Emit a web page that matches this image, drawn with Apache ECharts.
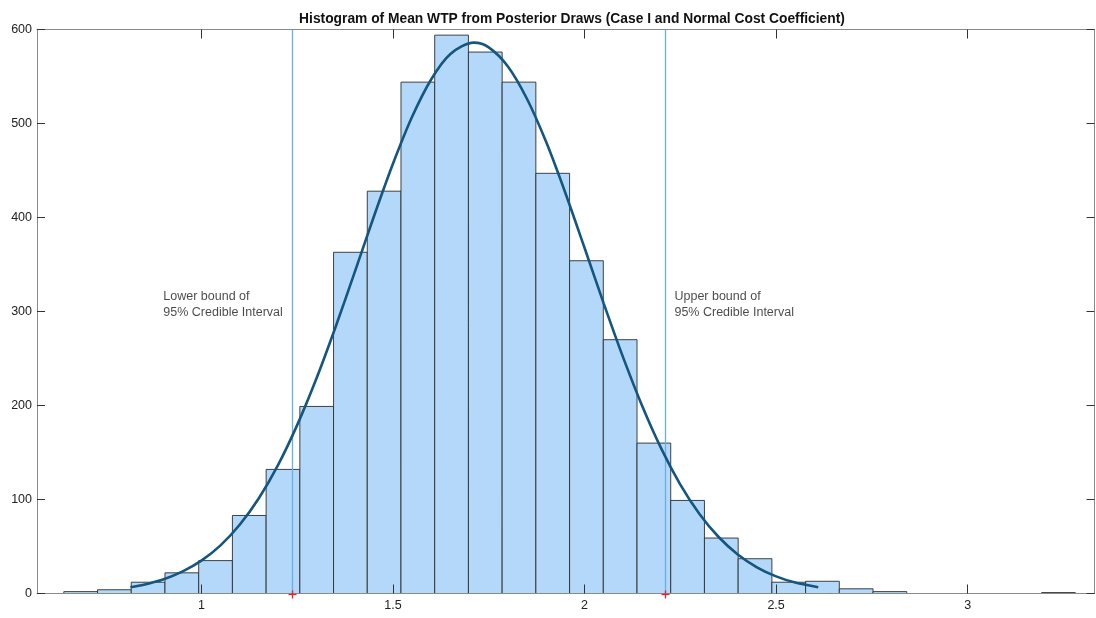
<!DOCTYPE html>
<html>
<head>
<meta charset="utf-8">
<title>Histogram of Mean WTP</title>
<script src="https://cdn.jsdelivr.net/npm/echarts@6/dist/echarts.min.js"></script>
<style>
  html, body { margin: 0; padding: 0; background: #ffffff; }
  #chart { width: 1096px; height: 618px; }
</style>
</head>
<body>
<div id="chart"></div>
<script>
// Histogram bin edges (mean WTP) and the number of posterior draws in each bin
const binEdges = [0.641, 0.729, 0.817, 0.905, 0.993, 1.081, 1.169, 1.257, 1.345, 1.433,
                  1.521, 1.609, 1.697, 1.785, 1.873, 1.961, 2.049, 2.137, 2.225, 2.313,
                  2.401, 2.489, 2.577, 2.665, 2.753, 2.841, 2.929, 3.017, 3.105, 3.193, 3.281];
const binCounts = [2, 4, 12, 22, 35, 83, 132, 199, 363, 428,
                   544, 594, 576, 544, 447, 354, 270, 160, 99, 59,
                   37, 12, 13, 5, 2, 0, 0, 0, 0, 1];

// Fitted normal density, scaled to counts
const curveX = [0.815, 0.85, 0.9, 0.95, 1.0, 1.05, 1.1, 1.15, 1.2, 1.25, 1.3, 1.35, 1.4, 1.45,
                1.5, 1.55, 1.6, 1.65, 1.711, 1.75, 1.8, 1.85, 1.9, 1.95, 2.0, 2.05, 2.1, 2.15,
                2.2, 2.25, 2.3, 2.35, 2.4, 2.45, 2.5, 2.55, 2.61];
const curveY = [6.7, 9.4, 14.9, 23.2, 34.9, 51.2, 73.1, 101.3, 136.6, 179.1, 228.4, 283.3, 341.6, 400.8,
                457.1, 507.1, 547.1, 574, 586, 581, 560.7, 526.1, 480.2, 426.1, 367.8, 308.7, 252.0, 200.0,
                154.4, 115.9, 84.6, 60.1, 41.5, 27.9, 18.2, 11.6, 6.6];

// 95% credible interval bounds
const ciBounds = [1.236, 2.210];

// Axis ticks
const xTicks = [1, 1.5, 2, 2.5, 3];
const yTicks = [0, 100, 200, 300, 400, 500, 600];

const titleText = 'Histogram of Mean WTP from Posterior Draws (Case I and Normal Cost Coefficient)';
const lowerText = 'Lower bound of\n95% Credible Interval';
const upperText = 'Upper bound of\n95% Credible Interval';

const FONT = '"Liberation Sans", Arial, Helvetica, sans-serif';
const X_MIN = 0.571, X_MAX = 3.331, Y_MIN = 0, Y_MAX = 600;

const histData = binCounts
  .map((c, i) => [binEdges[i], binEdges[i + 1], c])
  .filter(d => d[2] > 0);

const curveData = curveX.map((x, i) => [x, curveY[i]]);

const chart = echarts.init(document.getElementById('chart'), null, { renderer: 'canvas' });

const tickStyle = { color: '#333333', width: 1 };
const axisLineStyle = { color: '#8a8a8a', width: 1 };
const labelStyle = { color: '#222222', fontSize: 12.5, fontFamily: FONT };

const option = {
  animation: false,
  backgroundColor: '#ffffff',
  title: {
    text: titleText,
    left: 567,
    top: 7,
    textAlign: 'center',
    textStyle: { fontFamily: FONT, fontSize: 13.8, fontWeight: 'bold', color: '#111111' }
  },
  grid: {
    left: 37, right: 1.5, top: 29.5, bottom: 24.5,
    containLabel: false,
    outerBoundsMode: 'none'
  },
  xAxis: [{
    type: 'value', min: X_MIN, max: X_MAX, position: 'bottom', z: 10,
    splitLine: { show: false },
    axisLine: { show: true, onZero: false, lineStyle: axisLineStyle },
    axisTick: { show: true, inside: true, length: 9, customValues: xTicks, lineStyle: tickStyle },
    axisLabel: Object.assign({ show: true, margin: 6, customValues: xTicks }, labelStyle)
  }, {
    type: 'value', min: X_MIN, max: X_MAX, position: 'top', z: 10,
    splitLine: { show: false },
    axisLine: { show: true, onZero: false, lineStyle: axisLineStyle },
    axisTick: { show: true, inside: true, length: 9, customValues: xTicks, lineStyle: tickStyle },
    axisLabel: { show: false }
  }],
  yAxis: [{
    type: 'value', min: Y_MIN, max: Y_MAX, interval: 100, position: 'left', z: 10,
    splitLine: { show: false },
    axisLine: { show: true, onZero: false, lineStyle: axisLineStyle },
    axisTick: { show: true, inside: true, length: 8, lineStyle: tickStyle },
    axisLabel: Object.assign({ show: true, margin: 5, showMinLabel: true, showMaxLabel: true,
      formatter: v => (yTicks.indexOf(v) >= 0 ? String(v) : '') }, labelStyle)
  }, {
    type: 'value', min: Y_MIN, max: Y_MAX, interval: 100, position: 'right', z: 10,
    splitLine: { show: false },
    axisLine: { show: true, onZero: false, lineStyle: axisLineStyle },
    axisTick: { show: true, inside: true, length: 8, lineStyle: tickStyle },
    axisLabel: { show: false }
  }],
  series: [
    {
      // histogram bars, one rectangle per non-empty bin
      type: 'custom',
      xAxisIndex: 0, yAxisIndex: 0,
      data: histData,
      encode: { x: [0, 1], y: 2 },
      z: 2,
      renderItem: function (params, api) {
        const p0 = api.coord([api.value(0), api.value(2)]);
        const p1 = api.coord([api.value(1), 0]);
        return {
          type: 'rect',
          shape: { x: p0[0], y: p0[1], width: p1[0] - p0[0], height: p1[1] - p0[1] },
          style: { fill: '#b3d8f9', stroke: '#2e2e2e', lineWidth: 0.9 }
        };
      }
    },
    {
      // credible interval bounds: full-height vertical lines
      type: 'custom',
      xAxisIndex: 0, yAxisIndex: 0,
      data: ciBounds.map(v => [v]),
      encode: { x: 0 },
      z: 4,
      silent: true,
      renderItem: function (params, api) {
        const top = api.coord([api.value(0), Y_MAX]);
        const bottom = api.coord([api.value(0), Y_MIN]);
        const x = Math.round(top[0]) + 0.5;
        return {
          type: 'line',
          shape: { x1: x, y1: top[1], x2: x, y2: bottom[1] },
          style: { stroke: '#68b0e0', lineWidth: 1.3 }
        };
      }
    },
    {
      // fitted normal curve
      type: 'line',
      xAxisIndex: 0, yAxisIndex: 0,
      data: curveData,
      smooth: 0.3,
      showSymbol: false,
      symbol: 'none',
      lineStyle: { color: '#14567f', width: 2.6 },
      z: 5
    },
    {
      // red "+" markers at the interval bounds on the baseline
      type: 'custom',
      xAxisIndex: 0, yAxisIndex: 0,
      data: ciBounds.map(v => [v, 0]),
      encode: { x: 0, y: 1 },
      z: 20,
      clip: false,
      silent: true,
      renderItem: function (params, api) {
        const p = api.coord([api.value(0), api.value(1)]);
        const x = Math.round(p[0]) + 0.5;
        const y = Math.round(p[1]) + 0.5;
        return {
          type: 'group',
          children: [
            { type: 'line', shape: { x1: x - 4, y1: y, x2: x + 4, y2: y }, style: { stroke: '#e3262d', lineWidth: 1.3 } },
            { type: 'line', shape: { x1: x, y1: y - 4, x2: x, y2: y + 4 }, style: { stroke: '#e3262d', lineWidth: 1.3 } }
          ]
        };
      }
    },
    {
      // interval annotations
      type: 'scatter',
      xAxisIndex: 0, yAxisIndex: 0,
      data: [[0.902, 307, lowerText], [2.236, 307, upperText]],
      symbolSize: 1,
      itemStyle: { color: 'rgba(0,0,0,0)' },
      silent: true,
      z: 7,
      label: {
        show: true,
        position: [0, 0],
        align: 'left',
        verticalAlign: 'middle',
        formatter: p => p.data[2],
        fontFamily: FONT,
        fontSize: 12.5,
        lineHeight: 16,
        color: '#1a1a1a'
      }
    }
  ]
};

chart.setOption(option);
</script>
</body>
</html>
